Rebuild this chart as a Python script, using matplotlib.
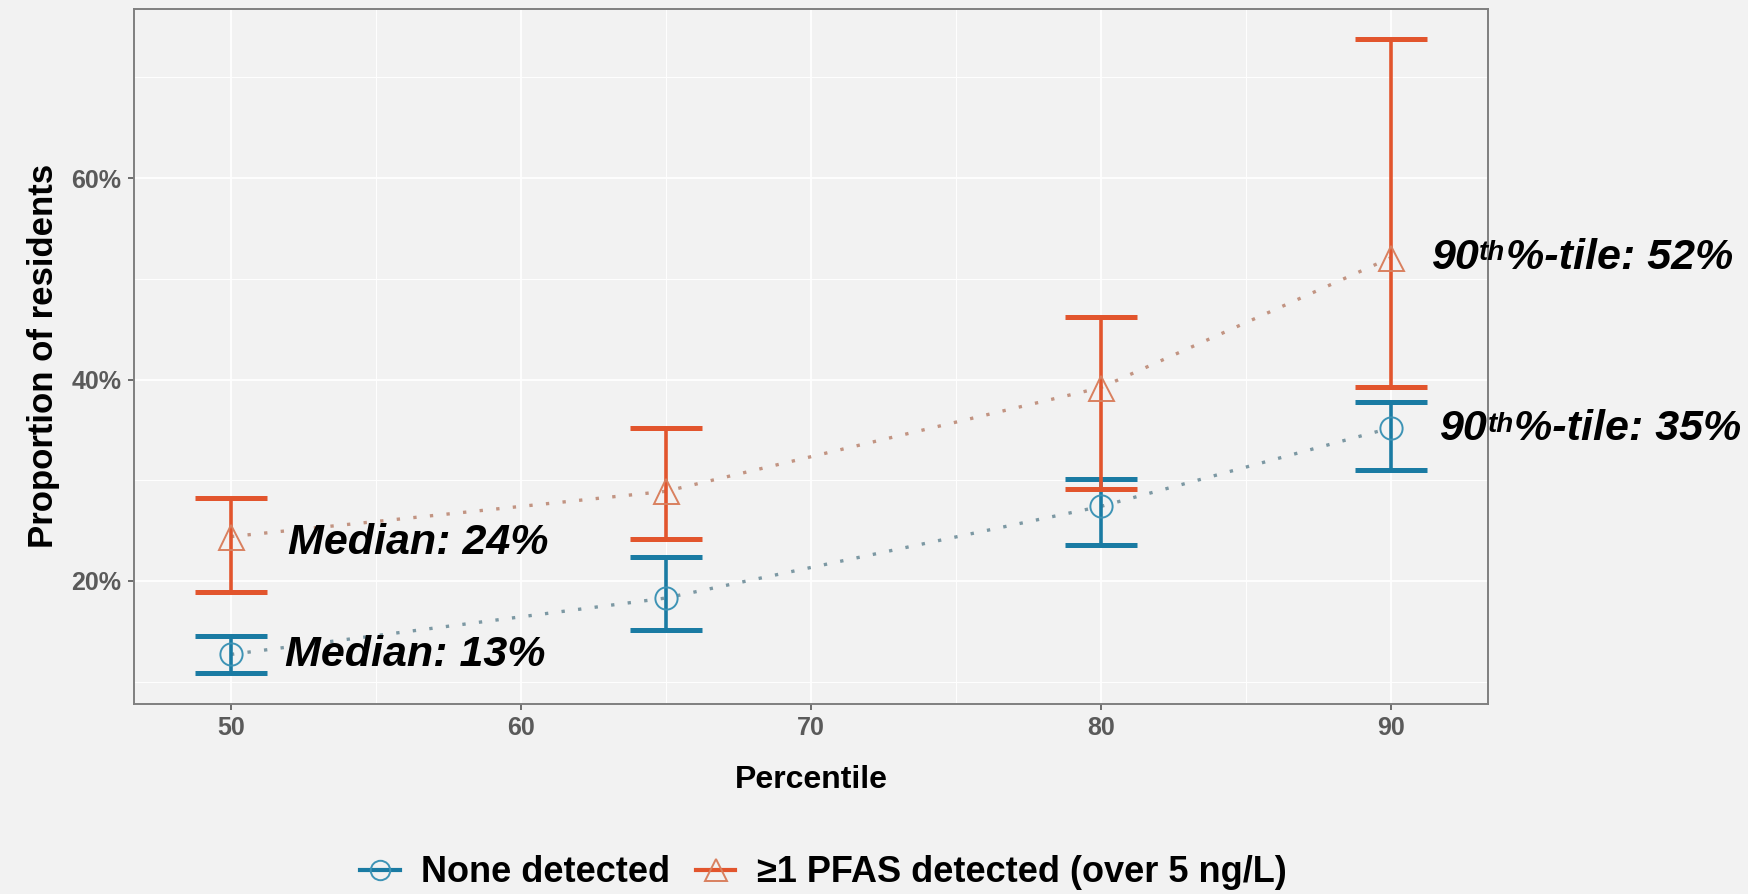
import numpy as np
import matplotlib
matplotlib.use("Agg")
import matplotlib.pyplot as plt
from matplotlib.lines import Line2D
from matplotlib.ticker import FixedLocator, FuncFormatter

plt.rcParams['font.family'] = ['Liberation Sans', 'DejaVu Sans']

# percentiles on the x axis
percentiles = [50, 65, 80, 90]

# None detected (proportion of residents, %)
none_est = [12.7, 18.3, 27.4, 35.2]
none_lo = [10.9, 15.1, 23.6, 31.0]
none_hi = [14.5, 22.4, 30.1, 37.8]

# >=1 PFAS detected (over 5 ng/L)
pfas_est = [24.4, 28.9, 39.2, 52.1]
pfas_lo = [18.9, 24.2, 29.1, 39.3]
pfas_hi = [28.2, 35.2, 46.2, 73.8]

labels = ['None detected', '\u22651 PFAS detected (over 5 ng/L)']
x_ticks = [50, 60, 70, 80, 90]
y_ticks = [20, 40, 60]

bg = '#F2F2F2'
blue_bar = '#1A7BA3'
orange_bar = '#E2552D'
blue_pt = '#3D93B5'
orange_pt = '#D9805F'
blue_dot = '#7C98A3'
orange_dot = '#C29482'

fig = plt.figure(figsize=(17.49, 8.94), dpi=100, facecolor=bg)
ax = fig.add_axes([0.0765, 0.2128, 0.7743, 0.7772])
ax.set_facecolor(bg)

ax.set_xlim(46.65, 93.35)
ax.set_ylim(7.8, 76.8)

# grid
ax.xaxis.set_major_locator(FixedLocator(x_ticks))
ax.yaxis.set_major_locator(FixedLocator(y_ticks))
ax.xaxis.set_minor_locator(FixedLocator([55, 65, 75, 85]))
ax.yaxis.set_minor_locator(FixedLocator([10, 30, 50, 70]))
ax.grid(which='major', color='white', lw=1.3, zorder=0)
ax.grid(which='minor', color='white', lw=0.7, zorder=0)
ax.set_axisbelow(True)
ax.tick_params(which='minor', length=0)
ax.tick_params(which='major', length=4, width=1.2, color='#555555',
               labelsize=18, labelcolor='#5A5A5A', pad=5)
for lab in ax.get_xticklabels() + ax.get_yticklabels():
    lab.set_fontweight('bold')
ax.yaxis.set_major_formatter(FuncFormatter(lambda v, p: '%d%%' % v))
for s in ax.spines.values():
    s.set_color('#7F7F7F')
    s.set_linewidth(1.4)

x = np.array(percentiles)

# dotted connecting lines
ax.plot(x, none_est, ls=(0, (1, 4)), lw=2.4, color=blue_dot, zorder=2)
ax.plot(x, pfas_est, ls=(0, (1, 4)), lw=2.4, color=orange_dot, zorder=2)

# error bars
for est, lo, hi, col, z in [(none_est, none_lo, none_hi, blue_bar, 3),
                            (pfas_est, pfas_lo, pfas_hi, orange_bar, 4)]:
    est = np.array(est)
    yerr = [est - np.array(lo), np.array(hi) - est]
    ax.errorbar(x, est, yerr=yerr, fmt='none', ecolor=col, elinewidth=2.6,
                capsize=26, capthick=3.6, zorder=z)

ax.plot(x, none_est, ls='none', marker='o', ms=16, mfc='none',
        mec=blue_pt, mew=1.4, zorder=5)
ax.plot(x, pfas_est, ls='none', marker='^', ms=18, mfc='none',
        mec=orange_pt, mew=1.4, zorder=5)

ax.set_xlabel('Percentile', fontsize=23, fontweight='bold', labelpad=18)
ax.set_ylabel('Proportion of residents', fontsize=25, fontweight='bold', labelpad=8)

# annotations
txt = dict(fontsize=31, fontweight='bold', fontstyle='italic', color='black')
ax.text(51.96, 23.8, 'Median: 24%', va='center', ha='left', **txt)
ax.text(51.85, 12.6, 'Median: 13%', va='center', ha='left', **txt)


def tile_label(xv, yv, value):
    t1 = ax.text(xv, yv, '90', va='center', ha='left', clip_on=False, **txt)
    t2 = ax.annotate('th', xy=(1, 0.93), xycoords=t1, va='top', ha='left',
                     fontsize=20, fontweight='bold', fontstyle='italic')
    ax.annotate('%-tile: ' + value, xy=(1, 0), xycoords=(t2, t1),
                va='bottom', ha='left', **txt)


tile_label(91.4, 52.1, '52%')
tile_label(91.7, 35.1, '35%')

handles = [Line2D([], [], color=blue_bar, lw=3, marker='o', ms=14, mfc='none',
                  mec=blue_pt, mew=1.4),
           Line2D([], [], color=orange_bar, lw=3, marker='^', ms=16, mfc='none',
                  mec=orange_pt, mew=1.4)]
fig.legend(handles, labels, loc='center', bbox_to_anchor=(0.4708, 0.0235),
           ncol=2, frameon=False, handlelength=1.1, handletextpad=0.6,
           columnspacing=0.7, prop={'size': 26, 'weight': 'bold'})

fig.savefig('out.png', dpi=100, facecolor=bg)
